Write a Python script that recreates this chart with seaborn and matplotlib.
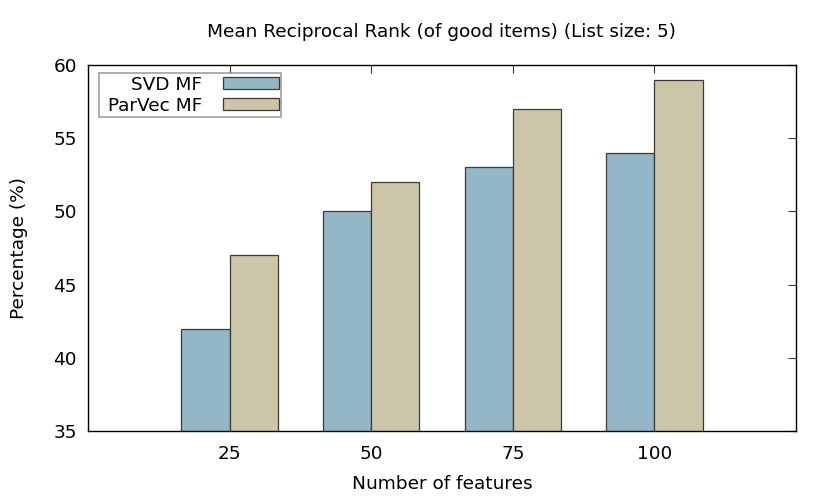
import pandas as pd
import seaborn as sns
import matplotlib.pyplot as plt
from matplotlib.patches import Rectangle
from matplotlib.container import BarContainer
from matplotlib.legend_handler import HandlerPatch

features = ["25", "50", "75", "100"]
svd_mf = [42, 50, 53, 54]
parvec_mf = [47, 52, 57, 59]
methods = ["SVD MF", "ParVec MF"]

df = pd.DataFrame({
    "feat": features * 2,
    "value": svd_mf + parvec_mf,
    "method": [methods[0]] * 4 + [methods[1]] * 4,
})

sns.set_style("white")
plt.rcParams['font.family'] = ['DejaVu Sans']
plt.rcParams['text.color'] = 'black'
plt.rcParams['axes.labelcolor'] = 'black'
plt.rcParams['xtick.color'] = 'black'
plt.rcParams['ytick.color'] = 'black'

fs = 13.3

fig = plt.figure(figsize=(8.3, 4.98), dpi=100)
ax = fig.add_axes([0.106, 0.1345, 0.853, 0.735])

sns.barplot(data=df, x="feat", y="value", hue="method", order=features,
            hue_order=methods, palette=["#93b7c6", "#ccc5a8"],
            width=0.68, gap=0, edgecolor="#3a3a3a", linewidth=0.9,
            saturation=1, ax=ax)

ax.set_xlim(-1, 4)
ax.set_ylim(35, 60)
ax.set_yticks([35, 40, 45, 50, 55, 60])
ax.tick_params(axis="both", direction="in", labelsize=fs, length=6,
               top=True, right=True, color="#333333", pad=8)
ax.tick_params(axis="x", pad=10)
for s in ax.spines.values():
    s.set_color("black")
    s.set_linewidth(1.0)

ax.set_title("Mean Reciprocal Rank (of good items) (List size: 5)", fontsize=fs, pad=20)
ax.set_xlabel("Number of features", fontsize=fs, labelpad=9)
ax.set_ylabel("Percentage (%)", fontsize=fs, labelpad=18)

# gnuplot-like key: labels right aligned, boxes on the right
old = ax.get_legend()
handles = list(old.legend_handles)
labels = [t.get_text() for t in old.get_texts()]
old.remove()
hp = HandlerPatch(xpad=0.2)
leg = ax.legend(handles, [" " + l for l in labels], loc="upper left",
                markerfirst=False, fontsize=fs,
                frameon=True, fancybox=False, handlelength=3.2, handleheight=0.6,
                borderpad=0.15, labelspacing=0.15, handletextpad=0.95,
                bbox_to_anchor=(0.0155, 0.978), borderaxespad=0,
                handler_map={Rectangle: hp, BarContainer: hp})
leg.get_frame().set_edgecolor("#888888")
leg.get_frame().set_linewidth(1.2)
for t in leg.get_texts():
    t.set_ha("right")

fig.savefig("out.png", dpi=100)
